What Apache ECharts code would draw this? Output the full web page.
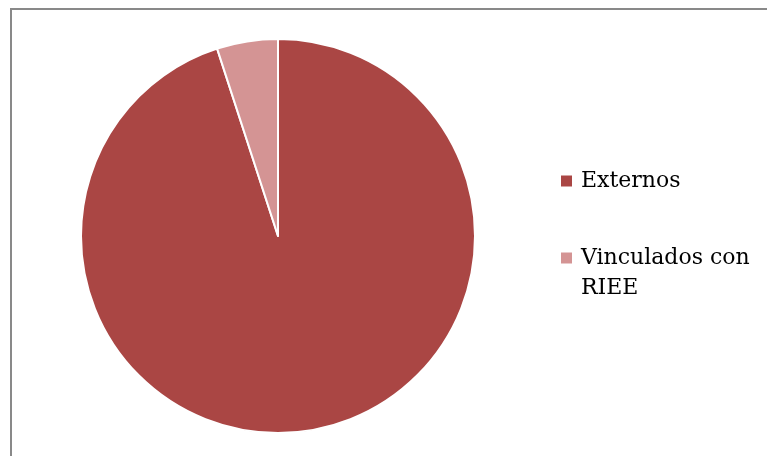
<!DOCTYPE html>
<html>
<head>
<meta charset="utf-8">
<script src="https://cdn.jsdelivr.net/npm/echarts@6/dist/echarts.min.js"></script>
<style>
html,body{margin:0;padding:0;background:#fff;}
#chart{width:767px;height:456px;}
</style>
</head>
<body>
<div id="chart"></div>
<script>
const categories = ["Externos", "Vinculados con RIEE"];
const values = [95, 5];
const colors = ["#AA4644", "#D49494"];

const chart = echarts.init(document.getElementById('chart'), null, {renderer: 'canvas'});
const option = {
  animation: false,
  graphic: [{
    type: 'rect',
    shape: {x: 11, y: 9, width: 800, height: 500},
    style: {fill: 'none', stroke: '#898989', lineWidth: 2}
  }],
  legend: {
    orient: 'vertical',
    left: 554,
    top: 161,
    itemWidth: 13,
    itemHeight: 13,
    itemGap: 17,
    icon: 'rect',
    formatter: function (name) {
      return name === "Vinculados con RIEE" ? "\nVinculados con\nRIEE" : name;
    },
    textStyle: {
      fontFamily: 'DejaVu Serif',
      fontSize: 22,
      color: '#000',
      lineHeight: 30,
      padding: [0, 0, 0, 3]
    },
    data: categories
  },
  series: [{
    type: 'pie',
    center: [278, 236],
    radius: 197,
    startAngle: 90,
    clockwise: true,
    label: {show: false},
    labelLine: {show: false},
    itemStyle: {borderColor: '#fff', borderWidth: 2},
    emphasis: {disabled: true},
    data: categories.map((c, i) => ({name: c, value: values[i], itemStyle: {color: colors[i]}}))
  }]
};
chart.setOption(option);
</script>
</body>
</html>
